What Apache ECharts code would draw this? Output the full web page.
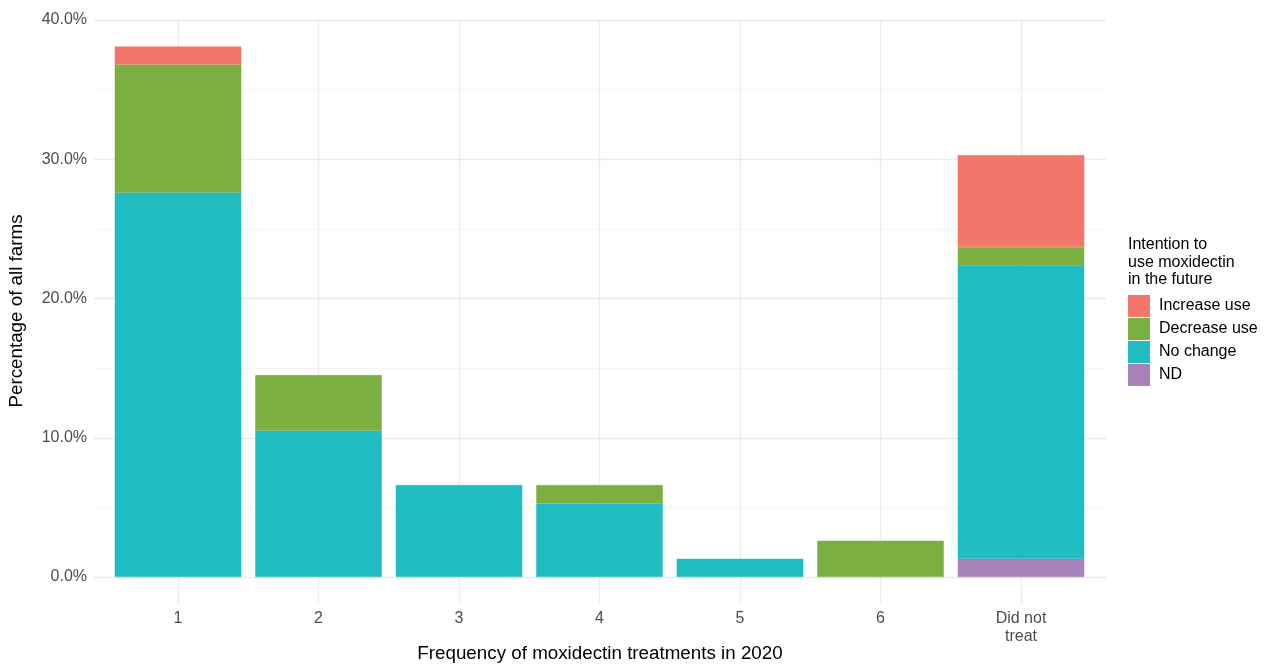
<!DOCTYPE html>
<html>
<head>
<meta charset="utf-8">
<script src="https://cdn.jsdelivr.net/npm/echarts@6/dist/echarts.min.js"></script>
<style>
html,body{margin:0;padding:0;background:#fff;}
#main{width:1266px;height:664px;}
</style>
</head>
<body>
<div id="main"></div>
<script>
// ---- data (percentage of all farms) ----
var categories = ['1', '2', '3', '4', '5', '6', 'Did not\ntreat'];
var seriesNames = ['Increase use', 'Decrease use', 'No change', 'ND'];
var ndVals        = [null, null, null, null, null, null, 1.3];
var noChangeVals  = [27.6, 10.5, 6.6, 5.3, 1.3, null, 21.1];
var decreaseVals  = [9.2, 4.0, null, 1.3, null, 2.6, 1.3];
var increaseVals  = [1.3, null, null, null, null, null, 6.6];
var yTicks = [0, 10, 20, 30, 40];

var colors = {
  'Increase use': '#F3766D',
  'Decrease use': '#7BAF41',
  'No change': '#1FBCC1',
  'ND': '#A781BA'
};
var FONT = '"Liberation Sans", Arial, Helvetica, sans-serif';

function barSeries(name, vals) {
  return {
    name: name,
    type: 'bar',
    stack: 'total',
    xAxisIndex: 1,
    yAxisIndex: 1,
    barWidth: 126.5,
    clip: false,
    itemStyle: { color: colors[name], borderColor: colors[name], borderWidth: 0.4 },
    emphasis: { disabled: true },
    data: vals
  };
}

var chart = echarts.init(document.getElementById('main'), null, { renderer: 'canvas' });
var option = {
  animation: false,
  backgroundColor: '#ffffff',
  textStyle: { fontFamily: FONT },
  grid: [
    { left: 94, right: 160, top: 20, bottom: 87 },   // horizontal gridlines + y labels
    { left: 178, right: 245, top: 20, bottom: 61 }   // vertical gridlines + bars
  ],
  xAxis: [
    { type: 'value', gridIndex: 0, min: 0, max: 1, show: false },
    {
      type: 'category', gridIndex: 1, data: categories, boundaryGap: false,
      axisLine: { show: false }, axisTick: { show: false },
      splitLine: { show: true, interval: 0, lineStyle: { color: '#EBEBEB', width: 1.3 } },
      axisLabel: {
        interval: 0, margin: 7, color: '#4D4D4D', fontSize: 16, fontFamily: FONT, lineHeight: 18
      }
    }
  ],
  yAxis: [
    {
      type: 'value', gridIndex: 0, min: yTicks[0], max: yTicks[yTicks.length - 1], interval: 10,
      axisLine: { show: false }, axisTick: { show: false },
      splitLine: { show: true, lineStyle: { color: '#EBEBEB', width: 1.3 } },
      minorTick: { show: false, splitNumber: 2 },
      minorSplitLine: { show: true, lineStyle: { color: '#F2F2F2', width: 0.8 } },
      axisLabel: {
        margin: 7, color: '#4D4D4D', fontSize: 16, fontFamily: FONT,
        formatter: function (v) { return v.toFixed(1) + '%'; }
      }
    },
    { type: 'value', gridIndex: 1, min: -1.867, max: 40, show: false }
  ],
  legend: {
    orient: 'vertical',
    left: 1128, top: 295,
    padding: 0,
    itemWidth: 22, itemHeight: 22, itemGap: 1,
    icon: 'rect',
    selectedMode: false,
    data: seriesNames,
    itemStyle: { borderWidth: 0 },
    textStyle: { color: '#000', fontSize: 16, fontFamily: FONT, padding: [0, 0, 0, 4] }
  },
  graphic: [
    {
      type: 'text', left: 1128, top: 236,
      style: { text: 'Intention to\nuse moxidectin\nin the future', fill: '#000', fontSize: 16, lineHeight: 17.5, fontFamily: FONT }
    },
    {
      type: 'text', x: 600, y: 654,
      style: { text: 'Frequency of moxidectin treatments in 2020', fill: '#000', fontSize: 18.8, fontFamily: FONT, align: 'center', verticalAlign: 'middle' }
    },
    {
      type: 'text', x: 17, y: 311, rotation: Math.PI / 2,
      style: { text: 'Percentage of all farms', fill: '#000', fontSize: 18.8, fontFamily: FONT, align: 'center', verticalAlign: 'middle' }
    }
  ],
  series: [
    barSeries('ND', ndVals),
    barSeries('No change', noChangeVals),
    barSeries('Decrease use', decreaseVals),
    barSeries('Increase use', increaseVals)
  ]
};
chart.setOption(option);
</script>
</body>
</html>
